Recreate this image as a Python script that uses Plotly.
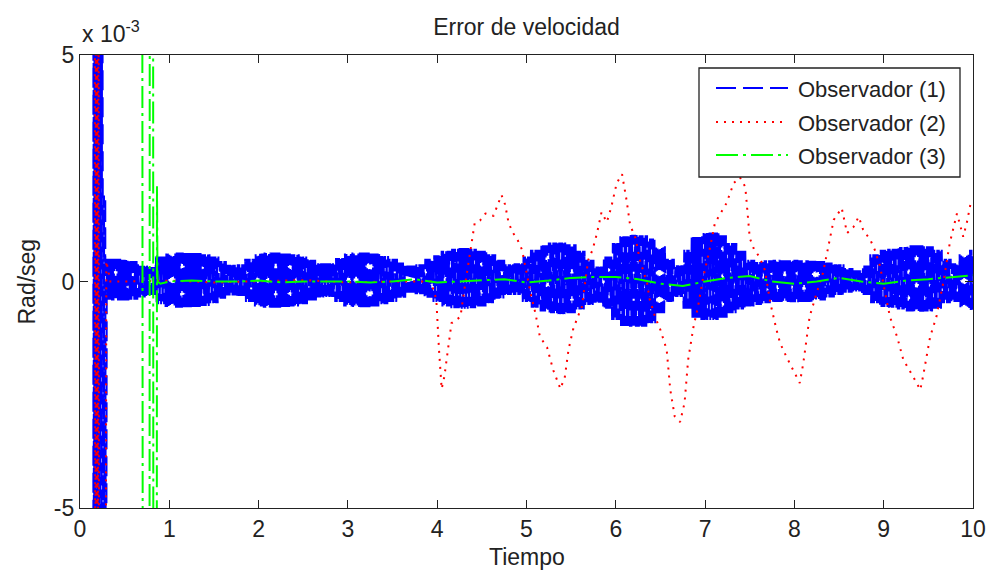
import numpy as np
import plotly.graph_objects as go

# ---- data (velocity error, in units of 1e-3 rad/s) ----

# Observador (1): start-up transient samples
obs1_start_t = [0.0, 0.149, 0.150, 0.157, 0.164, 0.171, 0.178, 0.185, 0.192, 0.199, 0.206,
                0.213, 0.220, 0.227, 0.234, 0.241, 0.248, 0.255, 0.262, 0.269, 0.276,
                0.283, 0.291]
obs1_start_v = [-30, -30, 12, -12, 12, -12, 12, -12, 12, -12, 12,
                -12, 12, -12, 12, -12, 12, 1.9, -12, 1.9, -12,
                1.85, -12]

# Observador (1): upper / lower swing of the fast oscillation, every 0.1 s from t = 0.3
obs1_env_t0 = 0.3
obs1_env_dt = 0.1
obs1_hi = [0.50, 0.50, 0.48, 0.45, 0.35, 0.32, 0.55, 0.62, 0.64, 0.63,
           0.63, 0.60, 0.55, 0.45, 0.37, 0.38, 0.50, 0.62, 0.64, 0.64,
           0.62, 0.60, 0.55, 0.48, 0.40, 0.40, 0.52, 0.62, 0.64, 0.64,
           0.62, 0.56, 0.50, 0.42, 0.35, 0.38, 0.50, 0.58, 0.68, 0.72,
           0.74, 0.72, 0.68, 0.60, 0.48, 0.38, 0.40, 0.55, 0.70, 0.80,
           0.86, 0.86, 0.82, 0.68, 0.48, 0.33, 0.55, 0.85, 1.00, 1.03,
           1.02, 0.95, 0.78, 0.50, 0.36, 0.70, 0.98, 1.07, 1.08, 1.02,
           0.85, 0.68, 0.48, 0.43, 0.47, 0.48, 0.47, 0.48, 0.47, 0.46,
           0.45, 0.42, 0.38, 0.30, 0.25, 0.35, 0.60, 0.70, 0.72, 0.76,
           0.80, 0.80, 0.78, 0.70, 0.50, 0.40, 0.60, 0.70]
obs1_lo = [-0.40, -0.42, -0.42, -0.40, -0.35, -0.30, -0.50, -0.56, -0.58, -0.57,
           -0.56, -0.54, -0.48, -0.38, -0.31, -0.32, -0.45, -0.55, -0.58, -0.58,
           -0.56, -0.55, -0.50, -0.42, -0.35, -0.34, -0.45, -0.55, -0.57, -0.57,
           -0.55, -0.50, -0.45, -0.36, -0.25, -0.28, -0.36, -0.45, -0.55, -0.59,
           -0.60, -0.59, -0.55, -0.48, -0.38, -0.30, -0.30, -0.45, -0.58, -0.66,
           -0.70, -0.72, -0.70, -0.62, -0.52, -0.47, -0.60, -0.85, -0.98, -1.00,
           -1.00, -0.92, -0.70, -0.45, -0.34, -0.60, -0.80, -0.85, -0.85, -0.80,
           -0.70, -0.62, -0.55, -0.52, -0.48, -0.45, -0.45, -0.46, -0.45, -0.45,
           -0.42, -0.35, -0.30, -0.25, -0.22, -0.30, -0.48, -0.56, -0.58, -0.62,
           -0.66, -0.67, -0.66, -0.60, -0.48, -0.45, -0.58, -0.63]

# Observador (2)
obs2_t = [0.0, 0.165, 0.172, 0.179, 0.186, 0.193, 0.200, 0.207, 0.214, 0.285,
          0.295, 0.31, 0.34, 0.5, 1.0, 1.5, 2.0, 2.5, 3.0, 3.5,
          3.93, 3.99, 4.02, 4.05, 4.08, 4.11, 4.16, 4.21, 4.26, 4.31,
          4.37, 4.42, 4.48, 4.54, 4.63, 4.68, 4.72, 4.76, 4.80, 4.85,
          4.90, 4.95, 5.00, 5.05, 5.10, 5.15, 5.23, 5.30, 5.38, 5.43,
          5.47, 5.52, 5.57, 5.62, 5.69, 5.74, 5.79, 5.84, 5.90, 5.95,
          6.01, 6.07, 6.12, 6.16, 6.22, 6.27, 6.35, 6.38, 6.44, 6.50,
          6.57, 6.61, 6.66, 6.72, 6.77, 6.81, 6.87, 6.92, 6.98, 7.05,
          7.11, 7.17, 7.24, 7.32, 7.39, 7.45, 7.47, 7.50, 7.55, 7.61,
          7.67, 7.73, 7.80, 7.84, 7.91, 7.99, 8.06, 8.10, 8.17, 8.25,
          8.32, 8.38, 8.44, 8.53, 8.59, 8.66, 8.72, 8.77, 8.85, 8.90,
          8.96, 9.01, 9.07, 9.15, 9.22, 9.33, 9.41, 9.44, 9.48, 9.52,
          9.59, 9.67, 9.74, 9.82, 9.85, 9.89, 9.93, 9.97, 10.0]
obs2_v = [30, 12, -12, 12, -12, 12, -12, 12, -12, -12,
          0.45, 0.3, 0.0, 0.0, 0.02, -0.02, 0.0, 0.03, -0.02, 0.0,
          0.0, -0.4, -1.5, -2.37, -2.1, -1.7, -0.92, -0.85, -0.78, -0.1,
          0.70, 1.29, 1.35, 1.5, 1.45, 1.7, 1.91, 1.7, 1.29, 1.07,
          0.92, 0.7, 0.2, -0.3, -0.70, -1.22, -1.45, -1.96, -2.37, -2.1,
          -1.51, -1.07, -0.8, -0.56, 0.47, 0.7, 1.07, 1.53, 1.31, 1.65,
          2.17, 2.37, 1.8, 1.25, 0.96, 0.47, -0.03, -0.4, -0.78, -1.07,
          -1.51, -2.39, -2.98, -3.1, -2.68, -1.73, -1.0, -0.56, 0.1, 0.7,
          1.29, 1.5, 1.73, 2.17, 2.3, 2.09, 1.58, 0.96, 0.7, 0.54,
          0.25, -0.47, -1.07, -1.36, -1.66, -1.96, -2.24, -1.8, -0.78, -0.25,
          0.19, 0.77, 1.36, 1.62, 1.07, 1.2, 1.43, 1.14, 0.92, 0.7,
          0.33, -0.19, -0.78, -1.22, -1.73, -2.1, -2.39, -2.1, -1.66, -1.22,
          -0.78, 0.0, 0.85, 1.5, 1.29, 0.99, 1.29, 1.69, 1.75]

# Observador (3)
obs3_t = [0.0, 0.69, 0.71, 0.775, 0.785, 0.815, 0.825, 0.855, 0.862, 0.868,
          0.9, 1.0, 1.25, 1.5, 1.75, 2.0, 2.25, 2.5, 2.75, 3.0,
          3.25, 3.5, 3.75, 4.0, 4.25, 4.5, 4.75, 5.0, 5.25, 5.5,
          5.75, 6.0, 6.25, 6.5, 6.75, 7.0, 7.25, 7.5, 7.75, 8.0,
          8.25, 8.5, 8.75, 9.0, 9.25, 9.5, 9.75, 10.0]
obs3_v = [30, 30, -30, -30, 30, 30, -30, -30, 2.1, 0.0,
          -0.05, 0.0, 0.02, 0.0, 0.0, 0.02, -0.02, 0.0, 0.0, 0.0,
          -0.02, 0.0, 0.05, -0.02, 0.0, 0.02, 0.05, -0.02, 0.02, 0.08,
          0.1, 0.1, 0.05, -0.05, -0.1, 0.0, 0.08, 0.12, 0.0, -0.05,
          0.0, 0.08, 0.0, -0.05, 0.02, 0.05, 0.1, 0.14]

series_names = ["Observador (1)", "Observador (2)", "Observador (3)"]
series_colors = ["#0000ff", "#ff0000", "#00ff00"]
series_dash = ["20px,7px", "2px,6px", "22px,5px,3px,5px"]

SCALE = 1e-3

# ---- Observador (1): fast oscillation swinging between the listed upper/lower values ----
sub_dt = obs1_env_dt / 12.0
n_sub = int(round((10.0 - obs1_env_t0) / sub_dt)) + 1
osc_t = obs1_env_t0 + np.arange(n_sub) * sub_dt
idx = np.clip(np.rint((osc_t - obs1_env_t0) / obs1_env_dt).astype(int), 0, len(obs1_hi) - 1)
hi = np.asarray(obs1_hi)[idx]
lo = np.asarray(obs1_lo)[idx]
osc_v = np.where(np.arange(n_sub) % 2 == 0, hi, lo)

obs1_x = np.concatenate([obs1_start_t, osc_t])
obs1_y = np.concatenate([obs1_start_v, osc_v]) * SCALE

fig = go.Figure()
fig.add_trace(go.Scatter(x=obs1_x, y=obs1_y, mode="lines", name=series_names[0],
                         line=dict(color=series_colors[0], width=2, dash=series_dash[0]),
                         hoverinfo="skip"))
fig.add_trace(go.Scatter(x=obs2_t, y=np.asarray(obs2_v) * SCALE, mode="lines", name=series_names[1],
                         line=dict(color=series_colors[1], width=2, dash=series_dash[1]),
                         hoverinfo="skip"))
fig.add_trace(go.Scatter(x=obs3_t, y=np.asarray(obs3_v) * SCALE, mode="lines", name=series_names[2],
                         line=dict(color=series_colors[2], width=2, dash=series_dash[2]),
                         hoverinfo="skip"))

FONT = "Liberation Sans, Arial, Helvetica, sans-serif"
AX = "#222222"
W, H = 989, 576
ML, MR, MT, MB = 80, 16, 55, 68
PW, PH = W - ML - MR, H - MT - MB


def px_x(px):
    return (px - ML) / PW


def px_y(py):
    return (H - MB - py) / PH


axis_common = dict(showline=True, linecolor=AX, linewidth=1.3, mirror="ticks",
                   ticks="inside", ticklen=8, tickwidth=1.3, tickcolor=AX,
                   showgrid=False, zeroline=False, automargin=False,
                   tickfont=dict(family=FONT, size=23, color=AX))

fig.update_layout(
    width=W, height=H,
    margin=dict(l=ML, r=MR, t=MT, b=MB, autoexpand=False),
    paper_bgcolor="white", plot_bgcolor="white",
    showlegend=False,
    title=dict(text="Error de velocidad", x=0.5, xref="paper", y=1 - 27 / H, yanchor="middle",
               font=dict(family=FONT, size=23, color=AX)),
    xaxis=dict(range=[0, 10], tickvals=list(range(11)), **axis_common),
    yaxis=dict(range=[-5 * SCALE, 5 * SCALE], tickvals=[-5 * SCALE, 0, 5 * SCALE],
               ticktext=["-5", "0", "5"], **axis_common),
)

# axis labels and exponent note
fig.add_annotation(text="Tiempo", x=0.5, y=px_y(557), xref="paper", yref="paper",
                   xanchor="center", yanchor="middle", showarrow=False,
                   font=dict(family=FONT, size=23, color=AX))
fig.add_annotation(text="Rad/seg", x=px_x(26), y=0.5, xref="paper", yref="paper",
                   xanchor="center", yanchor="middle", textangle=-90, showarrow=False,
                   font=dict(family=FONT, size=23, color=AX))
fig.add_annotation(text="x 10<sup>-3</sup>", x=0, y=px_y(49), xref="paper", yref="paper",
                   xanchor="left", yanchor="bottom", showarrow=False,
                   font=dict(family=FONT, size=23, color=AX))

# legend box drawn in the upper right corner of the axes
fig.add_shape(type="rect", xref="paper", yref="paper",
              x0=px_x(699), x1=px_x(960), y0=px_y(177), y1=px_y(68),
              fillcolor="white", line=dict(color=AX, width=1.3), layer="above")
row_y = [88, 122, 155]
for name, color, dash, ry in zip(series_names, series_colors, series_dash, row_y):
    fig.add_shape(type="line", xref="paper", yref="paper",
                  x0=px_x(716), x1=px_x(788), y0=px_y(ry), y1=px_y(ry),
                  line=dict(color=color, width=2, dash=dash), layer="above")
    fig.add_annotation(text=name, x=px_x(796), y=px_y(ry + 1), xref="paper", yref="paper",
                       xanchor="left", yanchor="middle", showarrow=False,
                       font=dict(family=FONT, size=22, color=AX))

fig.write_html("out.html")
